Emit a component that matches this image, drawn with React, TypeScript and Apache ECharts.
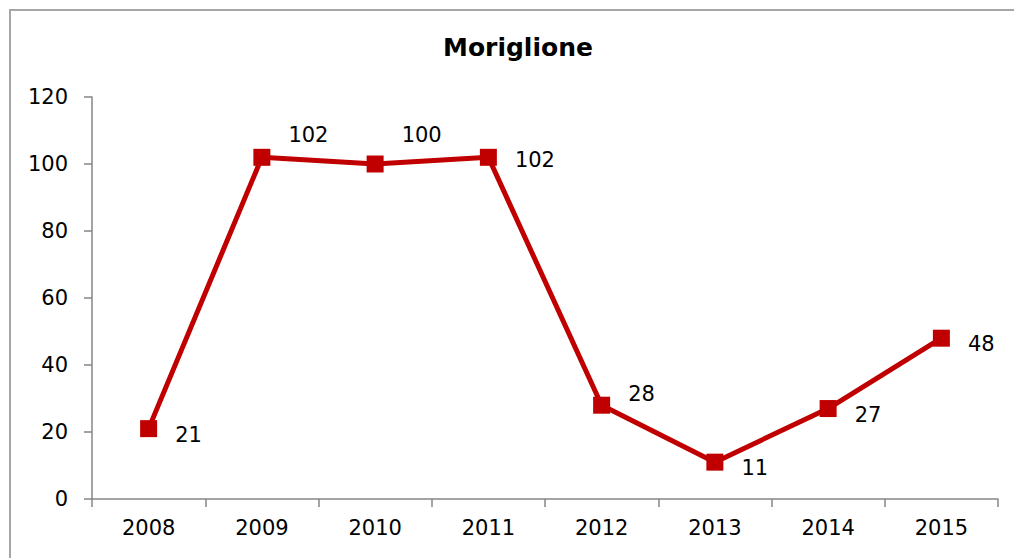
import React, { useEffect, useRef } from "react";
import * as echarts from "echarts";

const TITLE = "Moriglione";
const YEARS = ["2008", "2009", "2010", "2011", "2012", "2013", "2014", "2015"];
const VALUES = [21, 102, 100, 102, 28, 11, 27, 48];
const LABEL_DY = [6, -22, -29, 3, -11, 6, 6, 6];
const Y_MIN = 0;
const Y_MAX = 120;
const Y_STEP = 20;

const RED = "#c00000";
const FONT = "DejaVu Sans";

export default function App() {
  const ref = useRef<HTMLDivElement>(null);
  useEffect(() => {
    if (!ref.current) return;
    const chart = echarts.init(ref.current, undefined, { renderer: "svg" });
    chart.setOption({
      animation: false,
      backgroundColor: "#ffffff",
      title: {
        text: TITLE,
        left: 438,
        top: 30,
        textStyle: { fontFamily: FONT, fontSize: 25, fontWeight: "bold", color: "#000" },
      },
      graphic: [
        {
          type: "rect",
          shape: { x: 10, y: 10, width: 1200, height: 800 },
          style: { fill: "none", stroke: "#a6a6a6", lineWidth: 2 },
          silent: true,
        },
      ],
      grid: { left: 92, right: 16, top: 97, bottom: 59, containLabel: false },
      xAxis: {
        type: "category",
        data: YEARS,
        boundaryGap: true,
        axisLine: { lineStyle: { color: "#868686", width: 1.5 } },
        axisTick: { show: true, length: 8, inside: false, lineStyle: { color: "#868686", width: 1.5 } },
        axisLabel: { fontFamily: FONT, fontSize: 21, color: "#000", margin: 18 },
        splitLine: { show: false },
      },
      yAxis: {
        type: "value",
        min: Y_MIN,
        max: Y_MAX,
        interval: Y_STEP,
        axisLine: { show: true, lineStyle: { color: "#868686", width: 1.5 } },
        axisTick: { show: true, length: 8, inside: false, lineStyle: { color: "#868686", width: 1.5 } },
        axisLabel: { fontFamily: FONT, fontSize: 21, color: "#000", margin: 24 },
        splitLine: { show: false },
      },
      series: [
        {
          type: "line",
          data: VALUES.map((v, i) => ({
            value: v,
            label: { offset: [0, LABEL_DY[i]] },
          })),
          lineStyle: { color: RED, width: 5 },
          itemStyle: { color: RED },
          symbol: "rect",
          symbolSize: 17,
          label: {
            show: true,
            position: "right",
            distance: 18,
            fontFamily: FONT,
            fontSize: 21,
            color: "#000",
          },
        },
      ],
    });
    return () => chart.dispose();
  }, []);
  return <div ref={ref} style={{ width: 1014, height: 558, position: "absolute", left: 0, top: 0 }} />;
}
